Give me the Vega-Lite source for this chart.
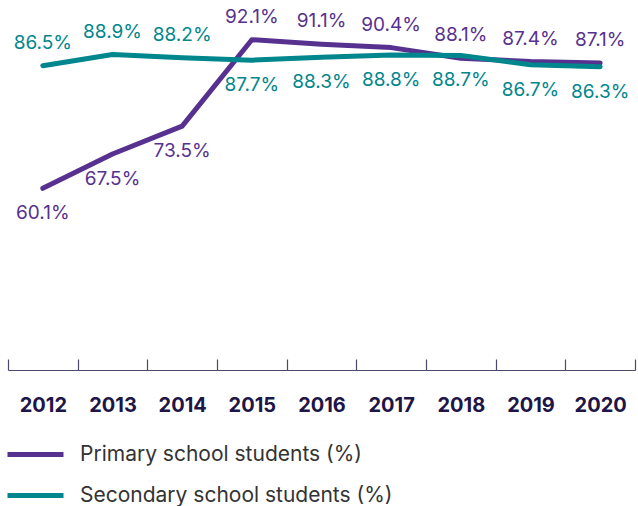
{
  "$schema": "https://vega.github.io/schema/vega-lite/v6.json",
  "autosize": "none",
  "width": 627,
  "height": 367,
  "padding": {"left": 8, "top": 3, "right": 3, "bottom": 136},
  "config": {"view": {"stroke": null}, "font": "Inter"},
  "data": {
    "values": [
      {"year": "2012", "series": "Primary school students (%)", "value": 60.1, "side": "below"},
      {"year": "2013", "series": "Primary school students (%)", "value": 67.5, "side": "below"},
      {"year": "2014", "series": "Primary school students (%)", "value": 73.5, "side": "below"},
      {"year": "2015", "series": "Primary school students (%)", "value": 92.1, "side": "above"},
      {"year": "2016", "series": "Primary school students (%)", "value": 91.1, "side": "above"},
      {"year": "2017", "series": "Primary school students (%)", "value": 90.4, "side": "above"},
      {"year": "2018", "series": "Primary school students (%)", "value": 88.1, "side": "above"},
      {"year": "2019", "series": "Primary school students (%)", "value": 87.4, "side": "above"},
      {"year": "2020", "series": "Primary school students (%)", "value": 87.1, "side": "above"},
      {"year": "2012", "series": "Secondary school students (%)", "value": 86.5, "side": "above"},
      {"year": "2013", "series": "Secondary school students (%)", "value": 88.9, "side": "above"},
      {"year": "2014", "series": "Secondary school students (%)", "value": 88.2, "side": "above"},
      {"year": "2015", "series": "Secondary school students (%)", "value": 87.7, "side": "below"},
      {"year": "2016", "series": "Secondary school students (%)", "value": 88.3, "side": "below"},
      {"year": "2017", "series": "Secondary school students (%)", "value": 88.8, "side": "below"},
      {"year": "2018", "series": "Secondary school students (%)", "value": 88.7, "side": "below"},
      {"year": "2019", "series": "Secondary school students (%)", "value": 86.7, "side": "below"},
      {"year": "2020", "series": "Secondary school students (%)", "value": 86.3, "side": "below"}
    ]
  },
  "transform": [{"calculate": "format(datum.value, '.1f') + '%'", "as": "label"}],
  "encoding": {
    "x": {
      "field": "year", "type": "ordinal", "bandPosition": 0.5,
      "scale": {"type": "band", "paddingInner": 0, "paddingOuter": 0},
      "axis": {
        "title": null, "labelAngle": 0, "tickBand": "extent",
        "tickSize": -11, "tickColor": "#4b4a6b", "domainColor": "#4b4a6b",
        "tickWidth": 1.2, "domainWidth": 1.2,
        "labelFont": "Inter", "labelFontSize": 20, "labelFontWeight": "bold",
        "labelColor": "#201547", "labelPadding": 36
      }
    },
    "y": {
      "field": "value", "type": "quantitative",
      "scale": {"domain": [21, 100], "nice": false, "zero": false},
      "axis": null
    },
    "color": {
      "field": "series", "type": "nominal",
      "scale": {"domain": ["Primary school students (%)", "Secondary school students (%)"], "range": ["#57318f", "#00868d"]},
      "legend": {
        "title": null, "orient": "none", "legendX": -3, "legendY": 421,
        "direction": "vertical", "symbolType": "stroke", "symbolSize": 3136,
        "symbolStrokeWidth": 5, "rowPadding": -16, "labelFont": "Inter",
        "labelFontSize": 21, "labelColor": "#333333", "labelOffset": 14,
        "labelLimit": 0
      }
    }
  },
  "layer": [
    {"mark": {"type": "line", "strokeWidth": 5, "strokeCap": "round", "strokeJoin": "round"}},
    {
      "transform": [{"filter": "datum.side === 'above'"}],
      "mark": {"type": "text", "dy": -23, "fontSize": 19, "font": "Inter"},
      "encoding": {"text": {"field": "label"}}
    },
    {
      "transform": [{"filter": "datum.side === 'below'"}],
      "mark": {"type": "text", "dy": 25, "fontSize": 19, "font": "Inter"},
      "encoding": {"text": {"field": "label"}}
    }
  ]
}
